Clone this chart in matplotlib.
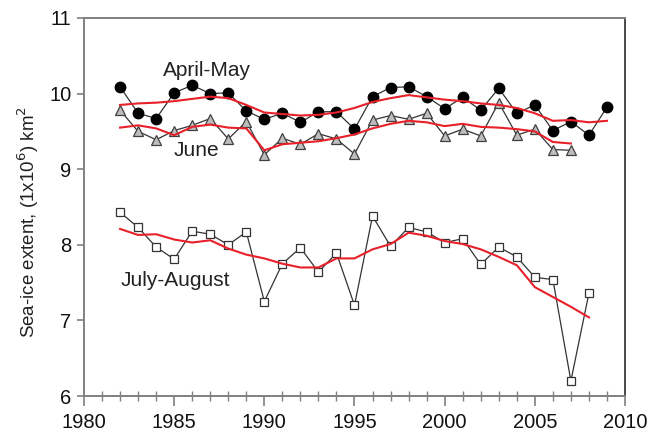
import matplotlib
matplotlib.use("Agg")
import matplotlib.pyplot as plt
from matplotlib.ticker import MultipleLocator

plt.rcParams['font.family'] = ['Liberation Sans', 'DejaVu Sans']

# Yearly sea-ice extent (10^6 km^2)
years_am = list(range(1982, 2010))
april_may = [10.09, 9.74, 9.67, 10.01, 10.11, 10.00, 10.01, 9.77, 9.66, 9.74,
             9.62, 9.76, 9.76, 9.53, 9.96, 10.08, 10.09, 9.96, 9.80, 9.95,
             9.78, 10.07, 9.74, 9.85, 9.51, 9.63, 9.45, 9.82]
april_may_smooth = [9.85, 9.87, 9.88, 9.90, 9.93, 9.96, 9.94, 9.85, 9.75, 9.73,
                    9.71, 9.72, 9.75, 9.81, 9.89, 9.94, 9.98, 9.95, 9.92, 9.90,
                    9.87, 9.85, 9.81, 9.74, 9.64, 9.65, 9.62, 9.64]

years_jun = list(range(1982, 2008))
june = [9.78, 9.50, 9.39, 9.51, 9.58, 9.67, 9.40, 9.63, 9.19, 9.41,
        9.33, 9.47, 9.40, 9.20, 9.65, 9.71, 9.66, 9.74, 9.44, 9.53,
        9.44, 9.88, 9.45, 9.53, 9.26, 9.25]
june_smooth = [9.55, 9.58, 9.54, 9.45, 9.56, 9.59, 9.55, 9.54, 9.25, 9.33,
               9.35, 9.37, 9.41, 9.46, 9.54, 9.60, 9.64, 9.62, 9.57, 9.60,
               9.56, 9.55, 9.53, 9.50, 9.36, 9.34]

years_ja = list(range(1982, 2009))
july_aug = [8.43, 8.23, 7.97, 7.81, 8.18, 8.14, 8.00, 8.17, 7.25, 7.75,
            7.96, 7.64, 7.89, 7.20, 8.38, 7.98, 8.23, 8.17, 8.03, 8.08,
            7.74, 7.97, 7.84, 7.57, 7.54, 6.20, 7.36]
july_aug_smooth = [8.21, 8.13, 8.14, 8.07, 8.03, 8.06, 7.95, 7.87, 7.82, 7.75,
                   7.70, 7.70, 7.82, 7.82, 7.94, 8.01, 8.16, 8.12, 8.05, 8.01,
                   7.94, 7.84, 7.73, 7.44, 7.31, 7.18, 7.04]

series_labels = ["April-May", "June", "July-August"]

fig = plt.figure(figsize=(6.49, 4.45), dpi=100)
ax = fig.add_axes([84 / 649, 1 - 396 / 445, (625 - 84) / 649, (396 - 18) / 445])

line_col = '#333333'
red = '#e8202a'

ax.plot(years_am, april_may, color=line_col, lw=0.9, marker='o', ms=7.5,
        mfc='black', mec='black', zorder=3)
ax.plot(years_jun, june, color=line_col, lw=0.9, marker='^', ms=7.5,
        mfc='#bdbdbd', mec='#404040', mew=0.9, zorder=3)
ax.plot(years_ja, july_aug, color=line_col, lw=0.9, marker='s', ms=6.2,
        mfc='white', mec='#333333', mew=0.9, zorder=3)

ax.plot(years_am, april_may_smooth, color=red, lw=1.5, zorder=4)
ax.plot(years_jun, june_smooth, color=red, lw=1.5, zorder=4)
ax.plot(years_ja, july_aug_smooth, color=red, lw=1.5, zorder=4)

ax.text(1984.38, 10.30, series_labels[0], fontsize=15, va='center', ha='left', color='#222222')
ax.text(1984.99, 9.25, series_labels[1], fontsize=15, va='center', ha='left', color='#222222')
ax.text(1982.05, 7.53, series_labels[2], fontsize=15, va='center', ha='left', color='#222222')

ax.set_xlim(1980, 2010)
ax.set_ylim(6, 11)
ax.xaxis.set_major_locator(MultipleLocator(5))
ax.xaxis.set_minor_locator(MultipleLocator(1))
ax.yaxis.set_major_locator(MultipleLocator(1))

spine_col = '#808080'
for side in ['left', 'bottom', 'top']:
    ax.spines[side].set_color(spine_col)
    ax.spines[side].set_linewidth(1.4)
ax.spines['right'].set_color('#4a4a4a')
ax.spines['right'].set_linewidth(1.4)

ax.tick_params(axis='x', which='major', direction='out', length=7, width=1.2,
               color=spine_col, labelsize=14.5, pad=5, labelcolor='#111111')
ax.tick_params(axis='x', which='minor', direction='inout', length=7, width=1.0,
               color=spine_col)
ax.tick_params(axis='y', which='major', direction='out', length=5, width=1.2,
               color=spine_col, labelsize=14.5, pad=4, labelcolor='#111111')

fig.text(28 / 649, 1 - 222 / 445, r'Sea-ice extent, (1x10$^{6}$) km$^{2}$',
         rotation=90, ha='center', va='center', fontsize=13.5, color='#222222')

fig.savefig('out.png', dpi=100)
